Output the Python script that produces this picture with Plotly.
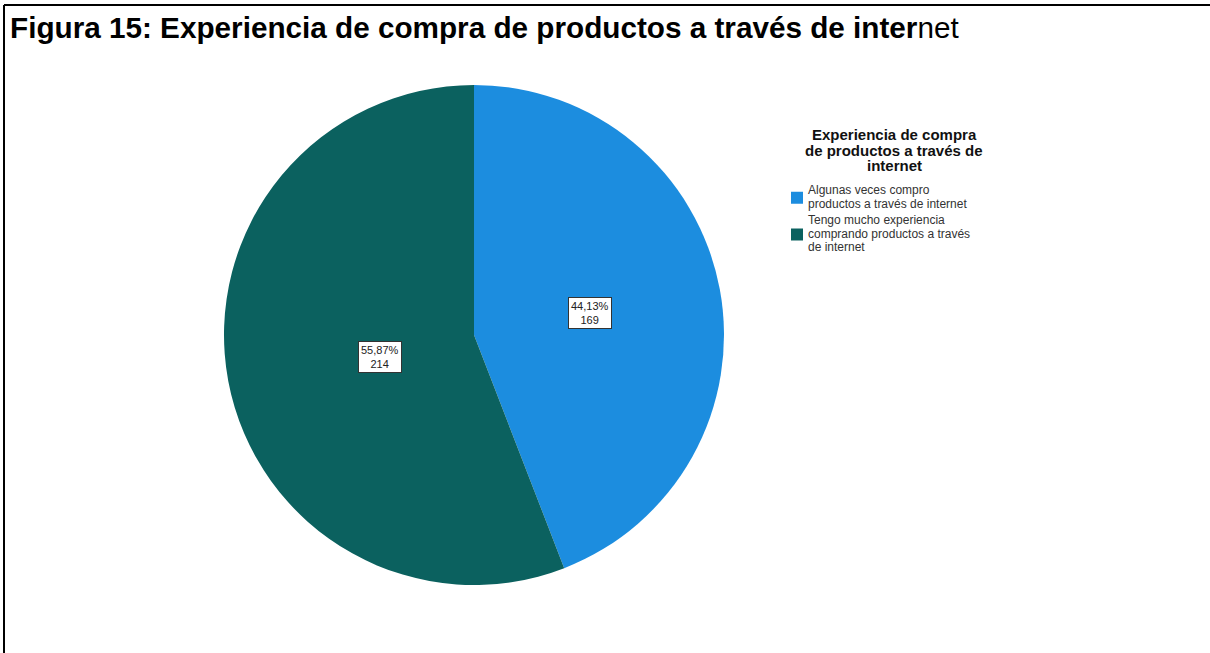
import math
import plotly.graph_objects as go

categories = ["Algunas veces compro productos a través de internet",
              "Tengo mucho experiencia comprando productos a través de internet"]
legend_lines = [["Algunas veces compro", "productos a través de internet"],
                ["Tengo mucho experiencia", "comprando productos a través", "de internet"]]
legend_title = ["Experiencia de compra", "de productos a través de", "internet"]
counts = [169, 214]
pct_labels = ["44,13%", "55,87%"]
colors = ["#1c8ddf", "#0b615f"]

W, H = 1210, 653
cx, cy, R = 474, 335, 250  # pie centre / radius in px
FONT = "Liberation Sans, Arial, sans-serif"


def px(x):
    return x / W


def py(y):
    return 1 - y / H


fig = go.Figure()
fig.add_trace(go.Pie(
    labels=categories, values=counts, sort=False, direction="clockwise", rotation=0,
    marker=dict(colors=colors, line=dict(width=0)),
    textinfo="none", hoverinfo="label+value+percent", showlegend=False,
    domain=dict(x=[px(cx - R), px(cx + R)], y=[py(cy + R), py(cy - R)]),
))

# data labels placed along each slice's mid-angle
total = sum(counts)
start = 0.0
for v, p in zip(counts, pct_labels):
    frac = v / total
    mid = 2 * math.pi * (start + frac / 2)
    d = 0.47 * R
    x = cx + d * math.sin(mid)
    y = cy - d * math.cos(mid)
    fig.add_annotation(x=px(x), y=py(y), xref="paper", yref="paper",
                       text=f"{p}<br>{v}", showarrow=False,
                       font=dict(family=FONT, size=11, color="#222"),
                       bgcolor="white", bordercolor="#333", borderwidth=1, borderpad=2)
    start += frac

# legend title (centred lines)
for i, t in enumerate(legend_title):
    fig.add_annotation(x=px(894), y=py(134 + i * 16), xref="paper", yref="paper",
                       xanchor="center", yanchor="middle", text=f"<b>{t}</b>", showarrow=False,
                       font=dict(family=FONT, size=15, color="#111"))

# legend items
shapes = []
y0 = 190
step = 13.5
for lines, col in zip(legend_lines, colors):
    n = len(lines)
    for j, t in enumerate(lines):
        fig.add_annotation(x=px(806), y=py(y0 + j * step), xref="paper", yref="paper",
                           xanchor="left", yanchor="middle", text=t, showarrow=False,
                           font=dict(family=FONT, size=12, color="#333"))
    mc = y0 + (n - 1) * step / 2 + 1
    shapes.append(dict(type="rect", xref="paper", yref="paper",
                       x0=px(791), x1=px(803), y0=py(mc + 6), y1=py(mc - 6),
                       fillcolor=col, line=dict(width=0)))
    y0 += n * step + 3

shapes += [
    dict(type="line", xref="paper", yref="paper", x0=px(4), x1=1, y0=py(5), y1=py(5),
         line=dict(color="black", width=2)),
    dict(type="line", xref="paper", yref="paper", x0=px(4), x1=px(4), y0=py(5), y1=0,
         line=dict(color="black", width=2)),
]

fig.update_layout(
    width=W, height=H, margin=dict(l=0, r=0, t=0, b=0),
    paper_bgcolor="white", plot_bgcolor="white",
    showlegend=False, shapes=shapes,
)
fig.add_annotation(x=px(8), y=py(28), xref="paper", yref="paper", xanchor="left", yanchor="middle",
                   text="<b>Figura 15: Experiencia de compra de productos a través de inter</b>net",
                   showarrow=False, font=dict(family=FONT, size=29.7, color="black"))

fig.write_html("out.html")
